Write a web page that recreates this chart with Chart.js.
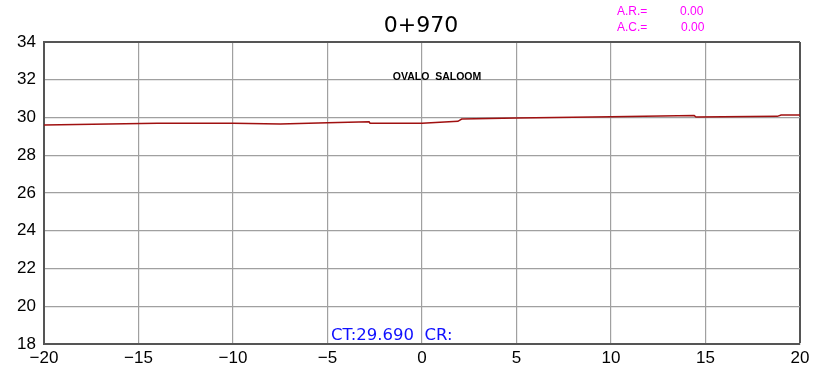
<!DOCTYPE html>
<html lang="en">
<head>
<meta charset="UTF-8">
<title>0+970</title>
<script src="https://cdn.jsdelivr.net/npm/chart.js"></script>
<style>
  body { margin: 0; background: #fff; }
  .wrap { width: 814px; height: 369px; }
</style>
</head>
<body>
<div class="wrap"><canvas id="myChart" width="814" height="369"></canvas></div>
<script>
// terrain profile, offset (m) vs elevation
const offsets    = [-20, -14, -10, -7.5, -5, -2.8, -2.75, 0, 1.9, 2.1, 5, 10, 14.4, 14.5, 18.8, 19.0, 20];
const elevations = [29.60, 29.70, 29.70, 29.65, 29.72, 29.77, 29.70, 29.69, 29.80, 29.92, 29.97, 30.04, 30.10, 30.02, 30.06, 30.13, 30.13];
const xTicks = [-20, -15, -10, -5, 0, 5, 10, 15, 20];
const yTicks = [18, 20, 22, 24, 26, 28, 30, 32, 34];

const title = '0+970';
const label = 'OVALO  SALOOM';
const ctText = 'CT:29.690  CR:';
const arLabels = ['A.R.=', 'A.C.='];
const arValues = ['0.00', '0.00'];

const points = offsets.map((x, i) => ({ x: x, y: elevations[i] }));

// texts around the section
const notes = {
  id: 'notes',
  afterDraw(chart) {
    const c = chart.ctx;
    c.save();
    c.textBaseline = 'middle';
    c.textAlign = 'center';
    c.fillStyle = '#000';
    c.font = '22px "DejaVu Sans"';
    c.fillText(title, 421, 26);
    c.font = 'bold 10.5px "Liberation Sans"';
    c.fillText(label, 437, 77);
    c.textAlign = 'left';
    c.fillStyle = '#1010ff';
    c.font = '16.5px "DejaVu Sans"';
    c.fillText(ctText, 331, 336);
    c.fillStyle = '#ff00ff';
    c.font = '12px "Liberation Sans"';
    c.fillText(arLabels[0], 617, 12);
    c.fillText(arValues[0], 680, 12);
    c.fillText(arLabels[1], 617, 28);
    c.fillText(arValues[1], 681, 28);
    c.restore();
  }
};

const frame = '#555';
const gridColor = (edge) => (ctx) => (ctx.tick && ctx.tick.value === edge) ? frame : '#a0a0a0';

const config = {
  type: 'scatter',
  data: {
    datasets: [{
      data: points,
      showLine: true,
      borderColor: '#a01010',
      borderWidth: 1.5,
      pointRadius: 0,
      tension: 0
    }]
  },
  options: {
    responsive: false,
    animation: false,
    layout: { padding: { top: 42, right: 14, left: 0, bottom: 0 } },
    plugins: { legend: false, tooltip: { enabled: false } },
    scales: {
      x: {
        type: 'linear',
        min: -20, max: 20,
        afterBuildTicks: (s) => { s.ticks = xTicks.map(v => ({ value: v })); },
        afterFit: (s) => { s.height = 25; },
        grid: { color: gridColor(20), lineWidth: (ctx) => (ctx.tick && ctx.tick.value === 20) ? 2 : 1.2, drawTicks: false },
        border: { color: frame, width: 2 },
        ticks: {
          color: '#000', padding: 4, maxRotation: 0,
          font: { family: 'Liberation Sans', size: 17 },
          callback: (v) => String(v).replace('-', '\u2212')
        }
      },
      y: {
        min: 18, max: 34,
        afterBuildTicks: (s) => { s.ticks = yTicks.map(v => ({ value: v })); },
        afterFit: (s) => { s.width = 44; },
        grid: { color: gridColor(34), lineWidth: (ctx) => (ctx.tick && ctx.tick.value === 34) ? 2 : 1.2, drawTicks: false },
        border: { color: frame, width: 2 },
        ticks: {
          color: '#000', padding: 8,
          font: { family: 'Liberation Sans', size: 17 }
        }
      }
    }
  },
  plugins: [notes]
};

const chart = new Chart(document.getElementById('myChart'), config);
</script>
</body>
</html>
